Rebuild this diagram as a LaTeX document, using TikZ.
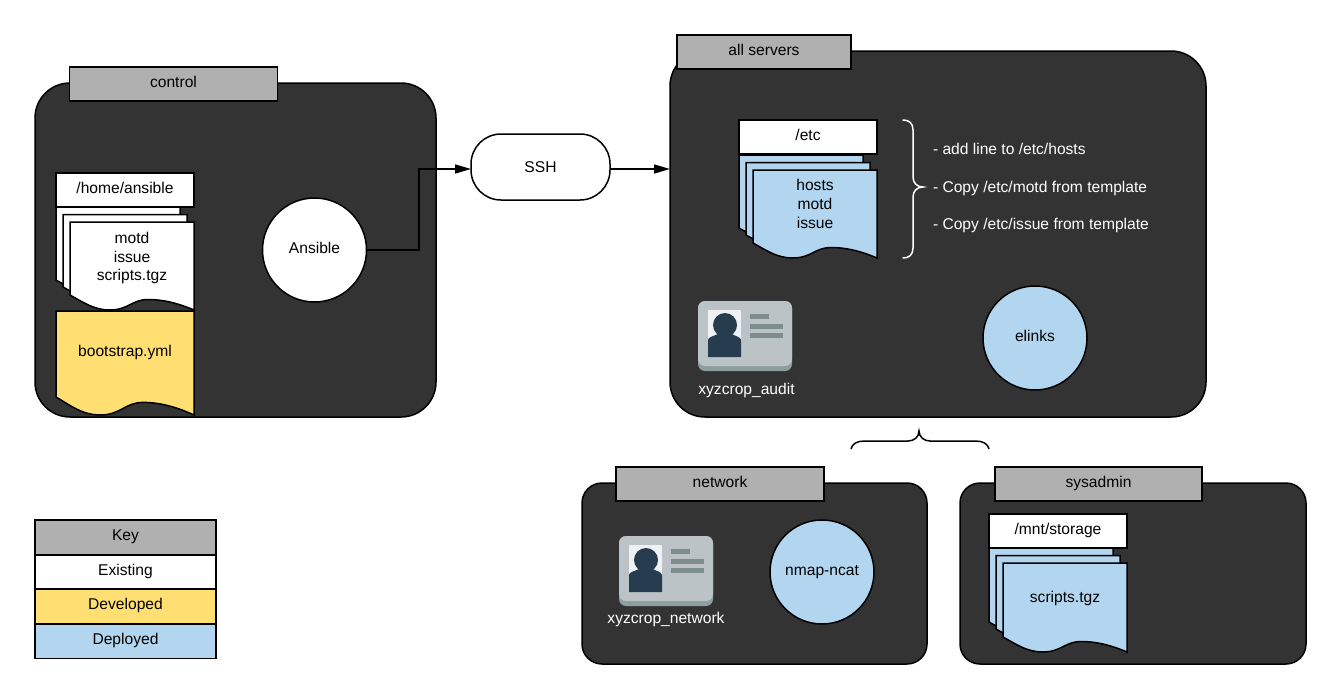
\documentclass[tikz,border=0pt]{standalone}
\usepackage{fontspec}
\setmainfont{Liberation Sans}
\usetikzlibrary{arrows.meta,positioning}
\definecolor{panelc}{HTML}{333333}
\definecolor{tabc}{HTML}{B0B0B0}
\definecolor{yellowc}{HTML}{FFDF71}
\definecolor{bluec}{HTML}{B2D5F0}
\definecolor{cardc}{HTML}{BCC3C7}
\definecolor{cardb}{HTML}{8C9F9C}
\definecolor{photoc}{HTML}{EEF2F4}
\definecolor{personc}{HTML}{283C50}
\definecolor{barc}{HTML}{7F8C8D}
\tikzset{
  x=1pt,y=-1pt,
  every node/.style={font=\fontsize{15.6}{18.7}\selectfont,inner sep=0pt,outer sep=0pt,align=center},
  oneline/.style={text height=10pt,text depth=4pt},
  panelbig/.style={draw=black,line width=1.5pt,fill=panelc,rounded corners=35pt,minimum width=#1,anchor=north west},
  tabbox/.style={oneline,draw=black,line width=1.5pt,fill=tabc,minimum height=34pt,anchor=north west},
  hdr/.style={oneline,draw=black,line width=2pt,fill=white,minimum width=138pt,minimum height=34pt,anchor=north west},
  proc/.style={oneline,draw=black,line width=1.5pt,circle,minimum size=104pt},
  keyrow/.style={oneline,draw=black,line width=1.5pt,minimum width=181pt,minimum height=34.5pt,anchor=north west},
  link/.style={draw=black,line width=1.5pt,-{Triangle[length=16pt,width=9pt]}},
  sheet/.style={draw=black,line width=1.5pt,line join=miter},
  wtext/.style={text=white,anchor=west,text height=12pt,text depth=2pt},
}
% x, top, width, bottom, left-side drop above bottom, fill
\newcommand{\docsheet}[6]{%
  \path[sheet,fill=#6] (#1,#2) -- ++(#3,0) -- (#1+#3,#4)
    .. controls (#1+0.88*#3,#4-#5*0.42) and (#1+0.76*#3,#4-#5*0.70) .. (#1+0.63*#3,#4-#5*0.70)
    .. controls (#1+0.50*#3,#4-#5*0.70) and (#1+0.47*#3,#4) .. (#1+0.32*#3,#4)
    .. controls (#1+0.19*#3,#4) and (#1+0.10*#3,#4-#5*0.55) .. (#1,#4-#5) -- cycle;
}
% three stacked sheets
\newcommand{\docstack}[4]{% x, top, bottom, fill
  \docsheet{#1}{#2}{124}{#3-15}{15}{#4}
  \docsheet{#1+7}{#2+7.5}{124}{#3-8}{15}{#4}
  \docsheet{#1+14}{#2+15}{124}{#3}{15}{#4}
}
% id badge icon at top left x,y
\newcommand{\badge}[2]{%
  \begin{scope}[shift={(#1,#2)}]
    \fill[cardb,rounded corners=7pt] (0,0) rectangle (94,70);
    \fill[cardc,rounded corners=7pt] (0,0) rectangle (94,65);
    \fill[photoc] (10,9) rectangle (43,56);
    \fill[personc] (10,56) -- (10,39) .. controls (10,36) and (16,35) .. (20,33)
       -- (34,33) .. controls (37,35) and (43,36) .. (43,39) -- (43,56) -- cycle;
    \fill[personc] (27,24) circle[radius=12pt];
    \fill[barc] (52,13) rectangle (71,18);
    \fill[barc] (52,23) rectangle (85,28);
    \fill[barc] (52,32) rectangle (85,37);
  \end{scope}
}
\begin{document}
\begin{tikzpicture}
\useasboundingbox (0,0) rectangle (1341,699);
\fill[white] (0,0) rectangle (1341,699);

% panels
\node[panelbig=401pt,minimum height=334pt] (control) at (35,83) {};
\node[panelbig=536pt,minimum height=366pt] (servers) at (670,51) {};
\node[panelbig=345pt,minimum height=181pt,rounded corners=20pt] (network) at (582,483) {};
\node[panelbig=346pt,minimum height=181pt,rounded corners=20pt] (sysadmin) at (960,483) {};

% tabs
\node[tabbox,minimum width=208pt] (tcontrol) at (69.5,67) {control};
\node[tabbox,minimum width=174pt] (tservers) at (677,35) {all servers};
\node[tabbox,minimum width=208pt] (tnetwork) at (616,467) {network};
\node[tabbox,minimum width=207pt] (tsysadmin) at (995,467) {sysadmin};

% control docs
\docsheet{56}{311}{138}{415}{18}{yellowc}
\node (boot) at (125,352) {bootstrap.yml};
\docstack{56}{207}{310}{white}
\node[hdr] (home) at (56,173) {/home/ansible};
\node (homefiles) at (132,258) {motd\\issue\\scripts.tgz};

% etc docs
\docstack{739}{155}{258}{bluec}
\node[hdr] (etc) at (739,120) {/etc};
\node (etcfiles) at (815,204) {hosts\\motd\\issue};

% storage docs
\docstack{989}{548}{652}{bluec}
\node[hdr] (storage) at (989,514) {/mnt/storage};
\node (storfiles) at (1065,598) {scripts.tgz};

% processes
\node[proc,fill=white] (ansible) at (314.5,250) {Ansible};
\node[proc,fill=bluec] (elinks) at (1035,338) {elinks};
\node[proc,fill=bluec] (nmap) at (822,572) {nmap-ncat};

% SSH
\node[draw=black,line width=1.5pt,fill=white,rounded corners=30pt,minimum width=139pt,minimum height=66pt,text height=12pt,text depth=2pt] (ssh) at (540.5,167) {SSH};

% connectors
\coordinate (elbow) at (419,169);
\draw[link] (ansible.east) -| (elbow) -- (elbow -| ssh.west);
\coordinate (sshout) at (610,169);
\draw[link] (sshout) -- (sshout -| servers.west);

% notes
\node[wtext] (n1) at (933,149) {- add line to /etc/hosts};
\node[wtext] (n2) at (933,187) {- Copy /etc/motd from template};
\node[wtext] (n3) at (933,224) {- Copy /etc/issue from template};

% braces
\draw[white,line width=1.5pt,line cap=round] (903,120) .. controls (909,120) and (913,123) .. (913,130)
  -- (913,177) .. controls (913,183) and (917,187) .. (923,187)
  .. controls (917,187) and (913,191) .. (913,197)
  -- (913,248) .. controls (913,255) and (909,258) .. (903,258);
\draw[black,line width=1.5pt] (851,449) .. controls (852,444) and (857,441) .. (864,441)
  -- (908,441) .. controls (914,441) and (919,437) .. (919,431)
  .. controls (919,437) and (924,441) .. (930,441)
  -- (976,441) .. controls (983,441) and (988,444) .. (989,449);

% badges
\badge{698}{301}
\node[text=white] (audit) at (746.5,390) {xyzcrop\_audit};
\badge{619}{536}
\node[text=white] (netid) at (666,619) {xyzcrop\_network};

% key
\node[keyrow,fill=tabc] (k0) at (35,520) {Key};
\node[keyrow,fill=white] (k1) at (35,555) {Existing};
\node[keyrow,fill=yellowc] (k2) at (35,589) {Developed};
\node[keyrow,fill=bluec] (k3) at (35,624) {Deployed};
\draw[black,line width=1.5pt] (k3.south west) -- (k3.south east);
\end{tikzpicture}
\end{document}
